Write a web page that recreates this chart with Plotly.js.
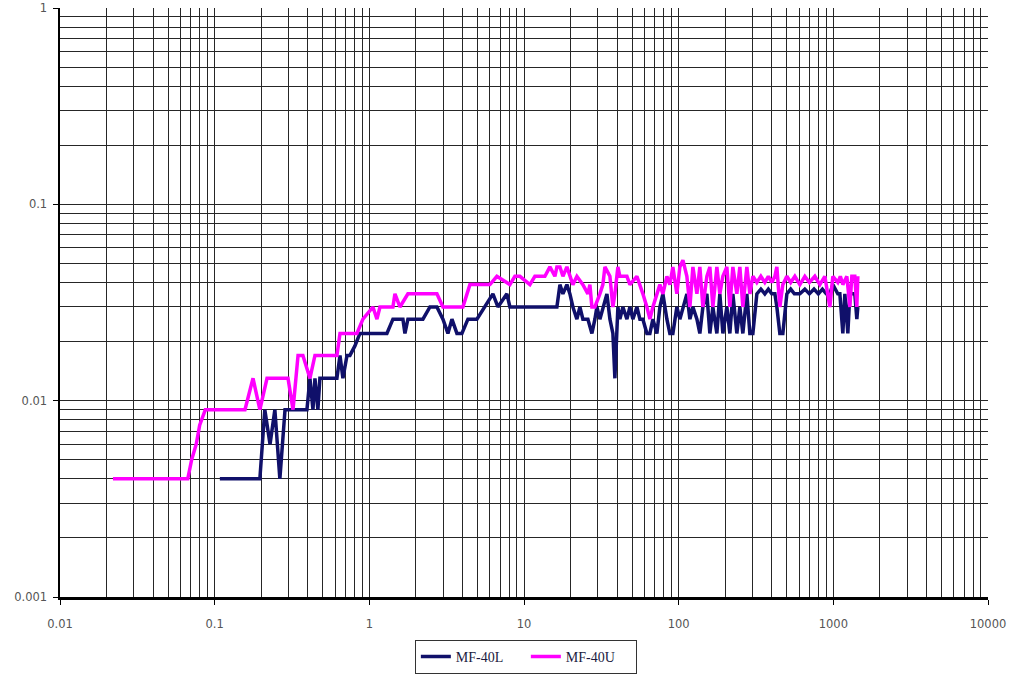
<!DOCTYPE html>
<html>
<head>
<meta charset="utf-8">
<script src="https://cdn.plot.ly/plotly-3.0.1.min.js"></script>
<style>html,body{margin:0;padding:0;background:#fff;}#chart{width:1016px;height:674px;}</style>
</head>
<body>
<div id="chart"></div>
<script>
// MF-40L series
const xL = [0.108,0.196,0.211,0.228,0.245,0.264,0.285,0.395,0.413,0.432,0.445,0.465,0.479,0.501,0.617,0.646,0.675,0.717,0.749,0.807,0.869,
  1.299,1.421,1.649,1.699,1.776,2.221,2.465,2.735,2.991,3.222,3.42,3.684,3.968,4.339,4.961,5.589,6.295,6.781,7.752,8.106,
  16.32,17.07,17.85,18.94,19.81,20.71,21.98,22.98,24.03,25.89,27.48,28.73,29.6,30.95,32.36,34.36,35.93,37.56,38.7,40.46,41.69,43.6,46.28,48.39,50.58,53.7,56.15,58.7,
  62.32,65.16,68.12,72.31,75.6,79.05,83.9,87.72,91.73,97.34,101.8,106.5,113,118.2,123.6,131.2,137.1,143.4,152.2,159.1,166.4,176.6,184.6,193.1,204.9,214.3,224.1,237.8,248.7,260,276,
  288.6,301.8,320.3,340,360.7,380,400,418.8,431.4,451,471.6,500.6,530,560,607.5,654.4,700,750,800,850,900,949.4,992.6,1069,1102,1152,1187,1241,1279,1317,1377,1419,1440];
const yL = [0.004,0.004,0.009,0.006,0.009,0.004,0.009,0.009,0.013,0.009,0.013,0.009,0.013,0.013,0.013,0.017,0.013,0.017,0.017,0.019,0.022,
  0.022,0.026,0.026,0.022,0.026,0.026,0.030,0.030,0.026,0.022,0.026,0.022,0.022,0.026,0.026,0.030,0.035,0.030,0.035,0.030,
  0.030,0.039,0.035,0.039,0.035,0.030,0.026,0.030,0.026,0.026,0.022,0.026,0.030,0.026,0.030,0.035,0.026,0.022,0.013,0.030,0.026,0.030,0.026,0.030,0.026,0.030,0.026,0.026,
  0.022,0.022,0.026,0.022,0.030,0.035,0.026,0.022,0.022,0.030,0.026,0.030,0.035,0.026,0.030,0.026,0.022,0.030,0.035,0.022,0.030,0.022,0.035,0.022,0.030,0.022,0.035,0.022,0.030,0.022,0.035,
  0.022,0.022,0.035,0.037,0.035,0.037,0.035,0.035,0.030,0.022,0.022,0.035,0.037,0.035,0.035,0.037,0.035,0.037,0.035,0.037,0.035,0.035,0.039,0.035,0.035,0.022,0.035,0.022,0.035,0.035,0.035,0.026,0.030];

// MF-40U series
const xU = [0.022,0.067,0.071,0.076,0.080,0.087,0.157,0.177,0.196,0.218,0.298,0.321,0.346,0.372,0.413,0.445,0.617,0.646,0.831,0.909,
  1.055,1.12,1.171,1.421,1.464,1.577,1.776,2.735,2.991,4.027,4.47,6.02,6.68,8.106,8.733,9.408,10.92,11.76,13.65,14.71,15.84,16.32,17.07,17.85,18.94,19.81,20.71,21.98,24.03,25.89,26.67,27.48,
  28.73,30.95,32.36,33.35,35.93,37.56,38.7,40.46,41.69,46.28,48.39,53.7,56.15,58.7,62.32,65.16,68.12,72.31,75.6,79.05,83.9,87.72,91.73,97.34,101.8,106.5,113,118.2,123.6,131.2,137.1,143.4,152.2,159.1,166.4,176.6,184.6,193.1,204.9,214.3,224.1,237.8,248.7,260,276,288.6,
  301.8,320.3,340,360.7,380,400,418.8,431.4,451,471.6,500.6,530,563.9,607.5,654.4,700,759.5,818.1,881.2,949.4,992.6,1069,1110,1152,1223,1279,1317,1377,1419,1440];
const yU = [0.004,0.004,0.005,0.006,0.0075,0.009,0.009,0.013,0.009,0.013,0.013,0.009,0.017,0.017,0.013,0.017,0.017,0.022,0.022,0.026,
  0.030,0.026,0.030,0.030,0.035,0.030,0.035,0.035,0.030,0.030,0.039,0.039,0.043,0.039,0.043,0.043,0.039,0.043,0.043,0.048,0.043,0.048,0.048,0.043,0.048,0.043,0.039,0.043,0.039,0.035,0.039,0.030,
  0.030,0.035,0.039,0.048,0.043,0.030,0.035,0.048,0.043,0.043,0.039,0.043,0.039,0.035,0.030,0.026,0.030,0.035,0.039,0.035,0.043,0.039,0.048,0.035,0.048,0.052,0.043,0.030,0.048,0.035,0.048,0.030,0.043,0.048,0.030,0.048,0.035,0.043,0.048,0.030,0.048,0.035,0.048,0.030,0.048,0.035,
  0.043,0.040,0.043,0.040,0.043,0.040,0.043,0.048,0.030,0.039,0.043,0.040,0.043,0.039,0.043,0.040,0.043,0.039,0.043,0.030,0.043,0.040,0.043,0.039,0.043,0.030,0.043,0.043,0.030,0.043];

const xTicks = [0.01,0.1,1,10,100,1000,10000];
const xTickText = ['0.01','0.1','1','10','100','1000','10000'];
const yTicks = [0.001,0.01,0.1,1];
const yTickText = ['0.001','0.01','0.1','1'];

const gridCol = '#262626';
const tickFont = {family:'DejaVu Sans, Verdana, sans-serif', size:11.5, color:'#555'};

const traces = [
  {x:xL, y:yL, name:'MF-40L', type:'scatter', mode:'lines', line:{color:'#10106a', width:3.5}},
  {x:xU, y:yU, name:'MF-40U', type:'scatter', mode:'lines', line:{color:'#ff00ff', width:3.5}}
];

const layout = {
  width:1016, height:674,
  margin:{l:60, r:28, t:8, b:77, autoexpand:false},
  paper_bgcolor:'#fff', plot_bgcolor:'#fff',
  showlegend:true,
  legend:{orientation:'h', x:0.502, xanchor:'center', y:-0.073, yanchor:'top',
    bordercolor:'#333', borderwidth:1, bgcolor:'#fff',
    font:{family:'Liberation Serif, Times New Roman, serif', size:14, color:'#1a1a40'},
    itemwidth:30, tracegroupgap:0, entrywidth:65},
  xaxis:{type:'log', range:[-2,4], tickvals:xTicks, ticktext:xTickText,
    showgrid:true, gridcolor:gridCol, gridwidth:1,
    minor:{dtick:'D1', showgrid:true, gridcolor:gridCol, gridwidth:1, ticks:''},
    ticks:'outside', ticklen:5, tickcolor:'#000', ticklabelstandoff:10,
    showline:true, linecolor:'#000', linewidth:2.5, zeroline:false,
    tickfont:tickFont},
  yaxis:{type:'log', range:[-3,0], tickvals:yTicks, ticktext:yTickText,
    showgrid:true, gridcolor:gridCol, gridwidth:1,
    minor:{dtick:'D1', showgrid:true, gridcolor:gridCol, gridwidth:1, ticks:''},
    ticks:'outside', ticklen:5, tickcolor:'#000', ticklabelstandoff:3,
    showline:true, linecolor:'#000', linewidth:2.5, zeroline:false,
    tickfont:tickFont}
};

Plotly.newPlot('chart', traces, layout, {displayModeBar:false, staticPlot:true});
</script>
</body>
</html>
